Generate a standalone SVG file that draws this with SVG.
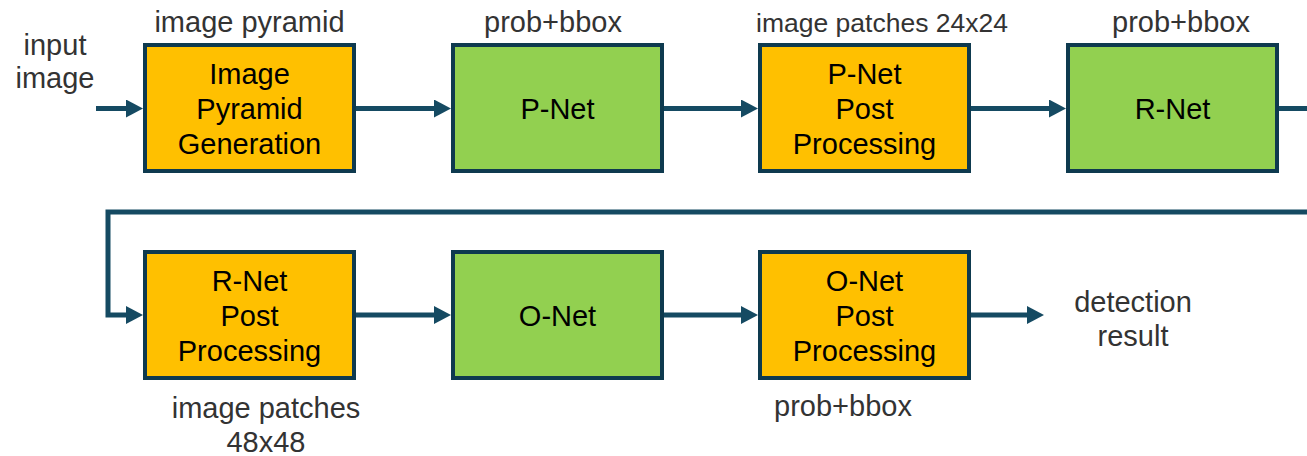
<svg xmlns="http://www.w3.org/2000/svg" width="1307" height="456" viewBox="0 0 1307 456">
  <style>
    .box { stroke: #0E3A4F; stroke-width: 4; }
    .proc { fill: #FFC000; }
    .net { fill: #92D050; }
    .t { font-family: "Liberation Sans", Arial, sans-serif; font-size: 29px; text-anchor: middle; fill: #000; }
    .lbl { font-family: "Liberation Sans", Arial, sans-serif; font-size: 29px; text-anchor: middle; fill: #333; }
    .wire { fill: none; stroke: #154A62; stroke-width: 5; }
  </style>
  <defs>
    <marker id="head" markerUnits="userSpaceOnUse" markerWidth="18" markerHeight="18" refX="10" refY="9" orient="auto">
      <path d="M0,0 L17,9 L0,18 Z" fill="#154A62"/>
    </marker>
  </defs>
  <rect width="1307" height="456" fill="#fff"/>

  <!-- connectors -->
  <g id="connectors">
    <path class="wire" d="M96,108.5 H136" marker-end="url(#head)"/>
    <path class="wire" d="M356,108.5 H444" marker-end="url(#head)"/>
    <path class="wire" d="M664,108.5 H751" marker-end="url(#head)"/>
    <path class="wire" d="M971,108.5 H1059" marker-end="url(#head)"/>
    <path class="wire" d="M1279,108.5 H1307"/>
    <path class="wire" d="M1307,212 H108 V315 H136" marker-end="url(#head)"/>
    <path class="wire" d="M356,315 H444" marker-end="url(#head)"/>
    <path class="wire" d="M664,315 H751" marker-end="url(#head)"/>
    <path class="wire" d="M971,315 H1037" marker-end="url(#head)"/>
  </g>

  <!-- free labels -->
  <g id="labels">
    <text class="lbl" x="55" y="55">input</text>
    <text class="lbl" x="55" y="88">image</text>
    <text class="lbl" x="249.5" y="32">image pyramid</text>
    <text class="lbl" x="553" y="32">prob+bbox</text>
    <text class="lbl" x="882" y="32" style="font-size:26.5px">image patches 24x24</text>
    <text class="lbl" x="1181" y="32">prob+bbox</text>
    <text class="lbl" x="266" y="418">image patches</text>
    <text class="lbl" x="266" y="452">48x48</text>
    <text class="lbl" x="843" y="416">prob+bbox</text>
    <text class="lbl" x="1133" y="312">detection</text>
    <text class="lbl" x="1133" y="346">result</text>
  </g>

  <!-- row 1 -->
  <g id="pyramid-gen">
    <rect class="box proc" x="145" y="45" width="209" height="126"/>
    <text class="t" x="249.5" y="84">Image</text>
    <text class="t" x="249.5" y="119">Pyramid</text>
    <text class="t" x="249.5" y="154">Generation</text>
  </g>
  <g id="p-net">
    <rect class="box net" x="453" y="45" width="209" height="126"/>
    <text class="t" x="557.5" y="119">P-Net</text>
  </g>
  <g id="p-net-post">
    <rect class="box proc" x="760" y="45" width="209" height="126"/>
    <text class="t" x="864.5" y="84">P-Net</text>
    <text class="t" x="864.5" y="119">Post</text>
    <text class="t" x="864.5" y="154">Processing</text>
  </g>
  <g id="r-net">
    <rect class="box net" x="1068" y="45" width="209" height="126"/>
    <text class="t" x="1172.5" y="119">R-Net</text>
  </g>

  <!-- row 2 -->
  <g id="r-net-post">
    <rect class="box proc" x="145" y="252" width="209" height="126"/>
    <text class="t" x="249.5" y="291">R-Net</text>
    <text class="t" x="249.5" y="326">Post</text>
    <text class="t" x="249.5" y="361">Processing</text>
  </g>
  <g id="o-net">
    <rect class="box net" x="453" y="252" width="209" height="126"/>
    <text class="t" x="557.5" y="326">O-Net</text>
  </g>
  <g id="o-net-post">
    <rect class="box proc" x="760" y="252" width="209" height="126"/>
    <text class="t" x="864.5" y="291">O-Net</text>
    <text class="t" x="864.5" y="326">Post</text>
    <text class="t" x="864.5" y="361">Processing</text>
  </g>
</svg>
